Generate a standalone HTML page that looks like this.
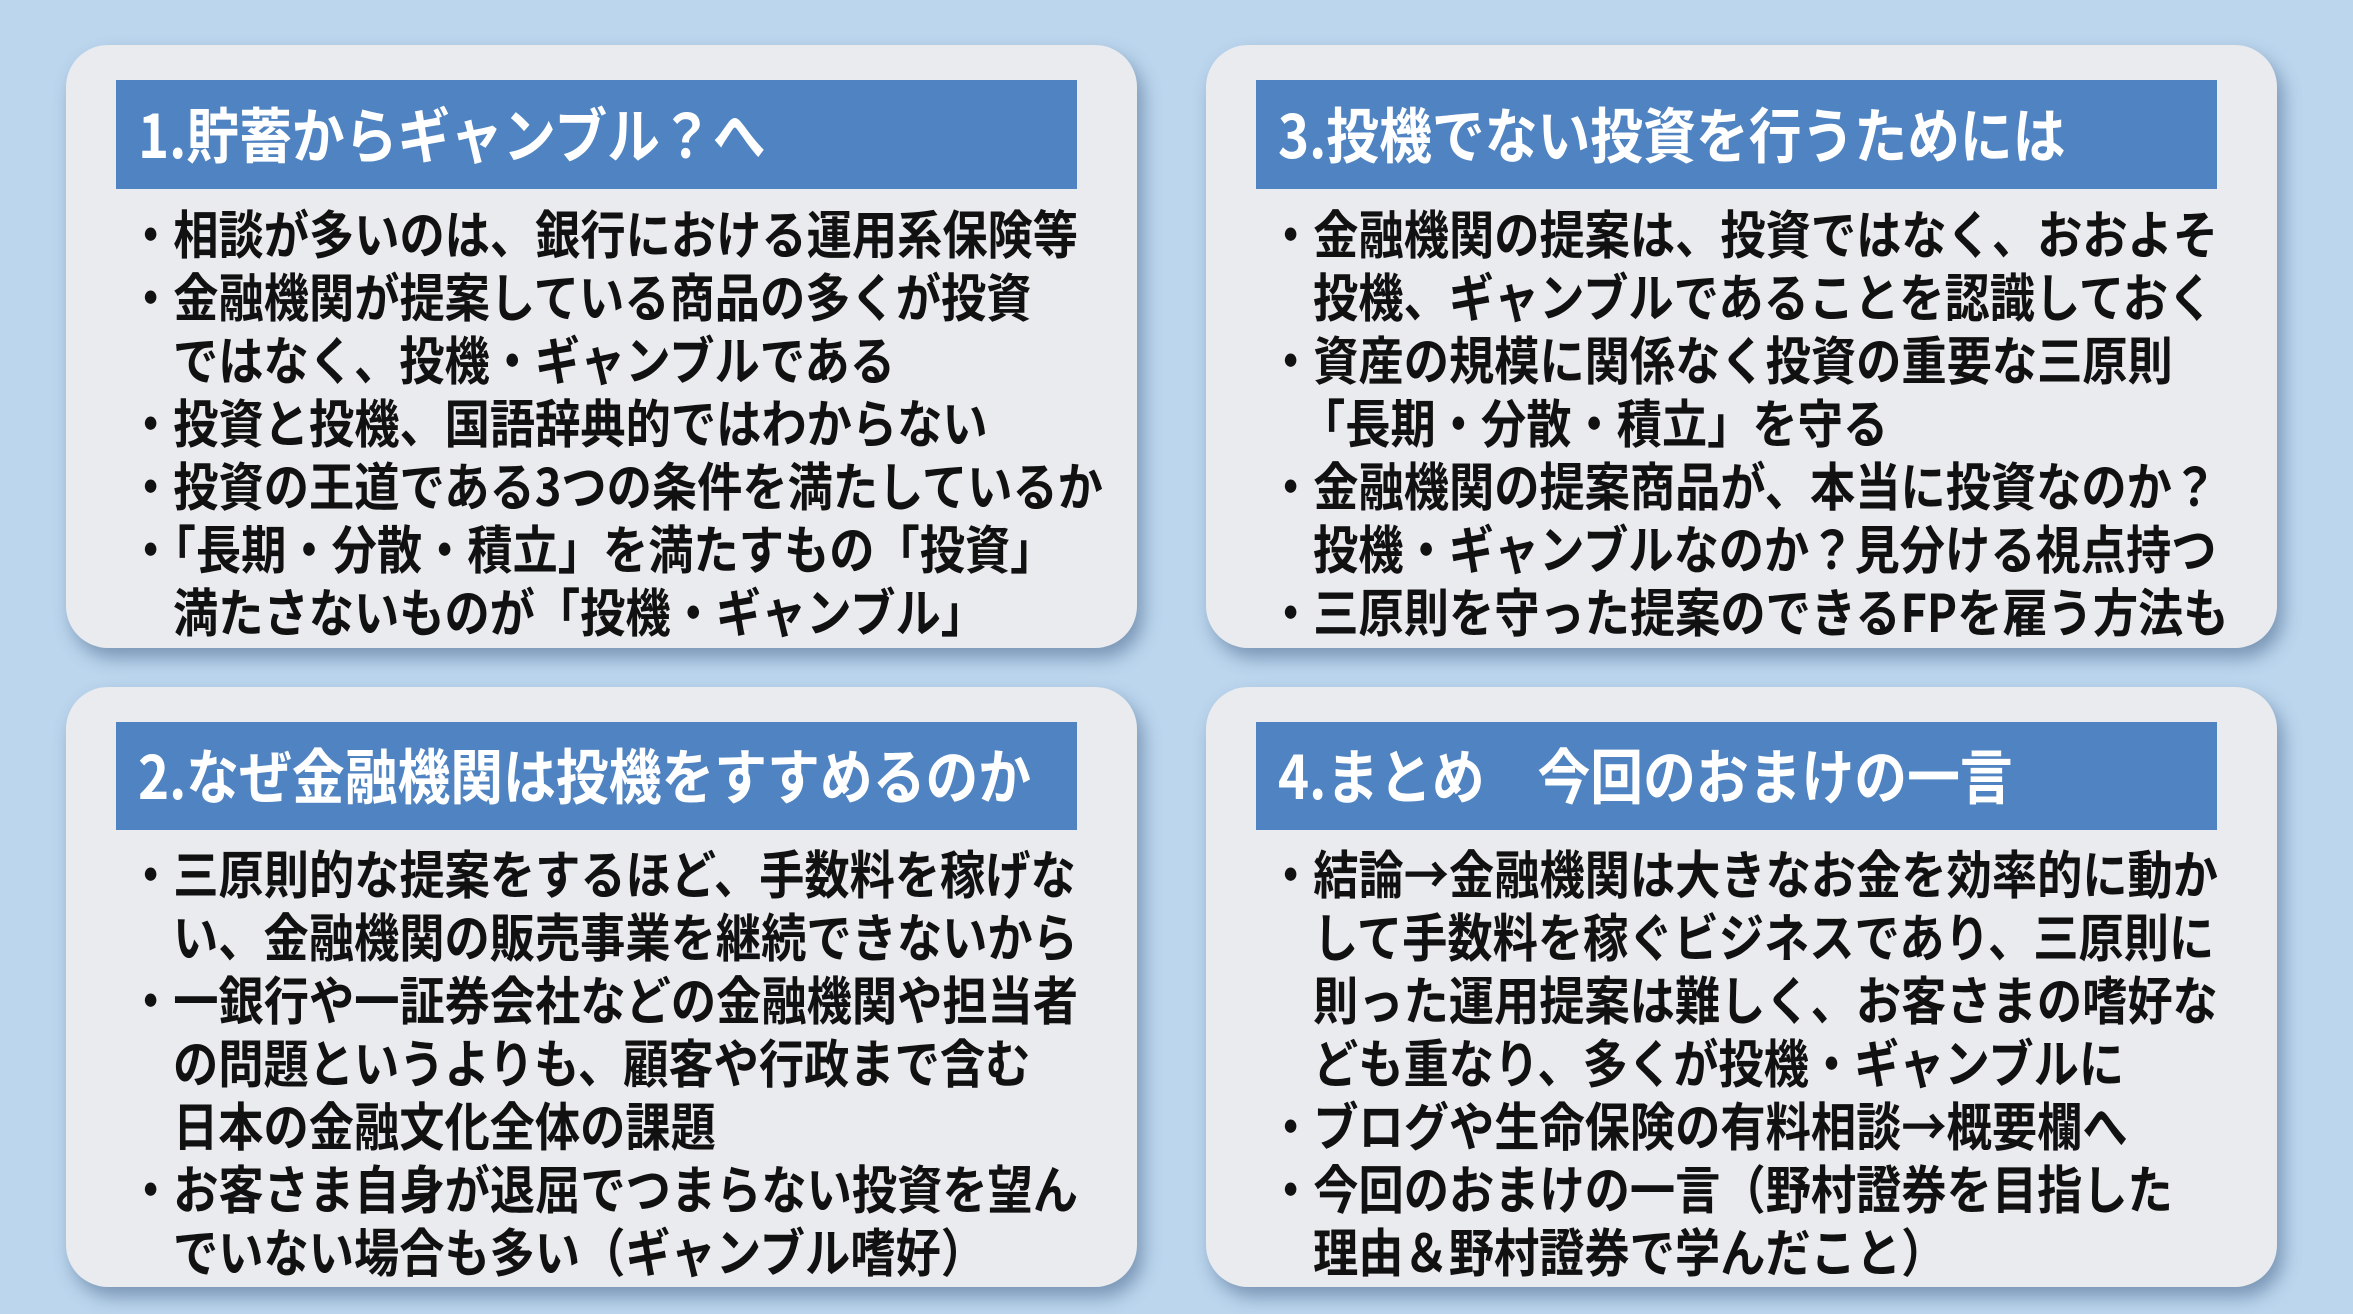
<!DOCTYPE html>
<html><head><meta charset="utf-8"><style>
body{margin:0;width:2353px;height:1314px;background:#bcd6ee;position:relative;overflow:hidden;font-family:"Noto Sans CJK JP",sans-serif;font-weight:bold}
.p{position:absolute;background:#e9ebee;border-radius:42px;box-shadow:6px 10px 18px rgba(40,70,110,.45)}
.h{position:absolute;background:#4f83c1;color:#fff}
.h span{position:absolute;left:22px;top:50%;font-size:60px;line-height:60px;margin-top:-32px;transform:scaleX(.88);transform-origin:left;white-space:nowrap}
.l{position:absolute;font-size:52px;line-height:52px;color:#111;white-space:nowrap;transform:scaleX(.87);transform-origin:left;margin-top:-24px}
</style></head><body>
<div class="p" style="left:66px;top:45px;width:1071px;height:603px"></div>
<div class="p" style="left:1206px;top:45px;width:1071px;height:603px"></div>
<div class="p" style="left:66px;top:687px;width:1071px;height:600px"></div>
<div class="p" style="left:1206px;top:687px;width:1071px;height:600px"></div>

<div class="h" style="left:116px;top:80px;width:961px;height:109px"><span>1.貯蓄からギャンブル？へ</span></div>
<div class="h" style="left:1256px;top:80px;width:961px;height:109px"><span>3.投機でない投資を行うためには</span></div>
<div class="h" style="left:116px;top:722px;width:961px;height:108px"><span>2.なぜ金融機関は投機をすすめるのか</span></div>
<div class="h" style="left:1256px;top:722px;width:961px;height:108px"><span>4.まとめ　今回のおまけの一言</span></div>

<div class="l" style="left:128px;top:230px">・相談が多いのは、銀行における運用系保険等</div>
<div class="l" style="left:128px;top:293px">・金融機関が提案している商品の多くが投資</div>
<div class="l" style="left:173px;top:356px">ではなく、投機・ギャンブルである</div>
<div class="l" style="left:128px;top:419px">・投資と投機、国語辞典的ではわからない</div>
<div class="l" style="left:128px;top:482px">・投資の王道である3つの条件を満たしているか</div>
<div class="l" style="left:128px;top:545px">・「長期・分散・積立」を満たすもの「投資」</div>
<div class="l" style="left:173px;top:608px">満たさないものが「投機・ギャンブル」</div>

<div class="l" style="left:1268px;top:230px">・金融機関の提案は、投資ではなく、おおよそ</div>
<div class="l" style="left:1313px;top:293px">投機、ギャンブルであることを認識しておく</div>
<div class="l" style="left:1268px;top:356px">・資産の規模に関係なく投資の重要な三原則</div>
<div class="l" style="left:1300px;top:419px">「長期・分散・積立」を守る</div>
<div class="l" style="left:1268px;top:482px">・金融機関の提案商品が、本当に投資なのか？</div>
<div class="l" style="left:1313px;top:545px">投機・ギャンブルなのか？見分ける視点持つ</div>
<div class="l" style="left:1268px;top:608px">・三原則を守った提案のできるFPを雇う方法も</div>

<div class="l" style="left:128px;top:870px">・三原則的な提案をするほど、手数料を稼げな</div>
<div class="l" style="left:173px;top:933px">い、金融機関の販売事業を継続できないから</div>
<div class="l" style="left:128px;top:996px">・一銀行や一証券会社などの金融機関や担当者</div>
<div class="l" style="left:173px;top:1059px">の問題というよりも、顧客や行政まで含む</div>
<div class="l" style="left:173px;top:1122px">日本の金融文化全体の課題</div>
<div class="l" style="left:128px;top:1185px">・お客さま自身が退屈でつまらない投資を望ん</div>
<div class="l" style="left:173px;top:1248px">でいない場合も多い（ギャンブル嗜好）</div>

<div class="l" style="left:1268px;top:870px">・結論→金融機関は大きなお金を効率的に動か</div>
<div class="l" style="left:1313px;top:933px">して手数料を稼ぐビジネスであり、三原則に</div>
<div class="l" style="left:1313px;top:996px">則った運用提案は難しく、お客さまの嗜好な</div>
<div class="l" style="left:1313px;top:1059px">ども重なり、多くが投機・ギャンブルに</div>
<div class="l" style="left:1268px;top:1122px">・ブログや生命保険の有料相談→概要欄へ</div>
<div class="l" style="left:1268px;top:1185px">・今回のおまけの一言（野村證券を目指した</div>
<div class="l" style="left:1313px;top:1248px">理由＆野村證券で学んだこと）</div>
</body></html>
